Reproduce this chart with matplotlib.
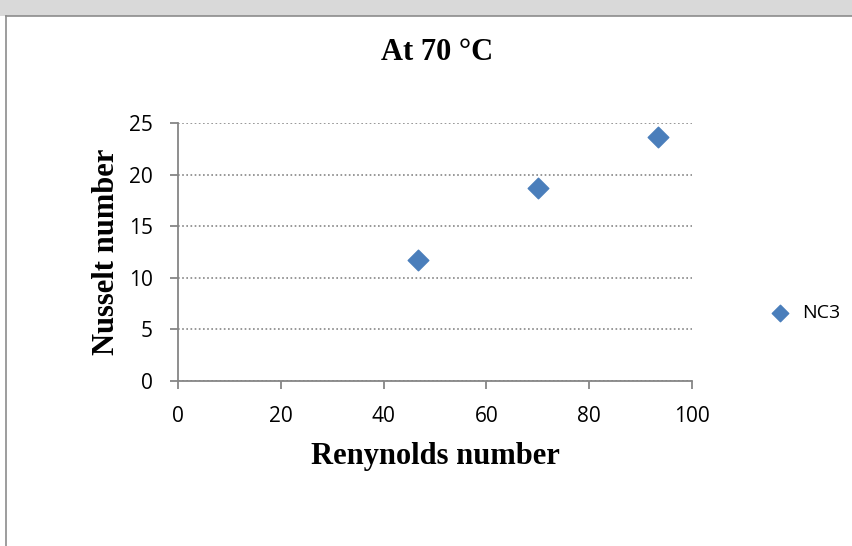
import matplotlib.pyplot as plt
from matplotlib.patches import Rectangle
from matplotlib.lines import Line2D

# data
reynolds = [46.6, 70.0, 93.3]
nusselt = [11.7, 18.7, 23.6]
series_name = 'NC3'
x_ticks = [0, 20, 40, 60, 80, 100]
y_ticks = [0, 5, 10, 15, 20, 25]

fig = plt.figure(figsize=(8.52, 5.46), dpi=100)

# gray band at top and chart border
fig.patches.append(Rectangle((0, 1 - 16/546), 1, 16/546, transform=fig.transFigure,
                             facecolor='#d9d9d9', edgecolor='none', zorder=0))
fig.lines.append(Line2D([6/852, 6/852], [0, 1 - 16/546], transform=fig.transFigure,
                        color='#8c8c8c', lw=1.2))
fig.lines.append(Line2D([6/852, 1], [1 - 16/546, 1 - 16/546], transform=fig.transFigure,
                        color='#8c8c8c', lw=1.2))

ax = fig.add_axes([178/852, 1 - 381/546, (692 - 178)/852, (381 - 123)/546])

ax.scatter(reynolds, nusselt, marker='D', s=110, color='#4a7ebb', edgecolors='#4a7ebb',
           label=series_name, zorder=3)

ax.set_xlim(0, 100)
ax.set_ylim(0, 25)
ax.set_xticks(x_ticks)
ax.set_yticks(y_ticks)

for s in ['top', 'right']:
    ax.spines[s].set_visible(False)
for s in ['left', 'bottom']:
    ax.spines[s].set_color('#868686')
    ax.spines[s].set_linewidth(1.3)

ax.tick_params(axis='both', direction='out', length=6, width=1.3, color='#868686',
               labelsize=15)
ax.tick_params(axis='x', pad=12)
ax.tick_params(axis='y', pad=12)
for lab in ax.get_xticklabels() + ax.get_yticklabels():
    lab.set_fontfamily('Open Sans')

ax.yaxis.grid(True, linestyle=(0, (1, 1.5)), color='#868686', linewidth=1.2)
ax.set_axisbelow(True)

ax.set_xlabel('Renynolds number', fontfamily='Liberation Serif', fontweight='bold',
              fontsize=22, labelpad=11)
ax.set_ylabel('Nusselt number', fontfamily='Liberation Serif', fontweight='bold',
              fontsize=22, labelpad=6)
fig.text(437/852, 1 - 52/546, 'At 70 °C', ha='center', va='center',
         fontfamily='Liberation Serif', fontweight='bold', fontsize=22)

ax.legend(loc='center left', bbox_to_anchor=(1.1, 0.265), frameon=False,
          prop={'family': 'Open Sans', 'size': 14}, handletextpad=0.1, markerscale=0.8)

fig.savefig('out.png', dpi=100)
